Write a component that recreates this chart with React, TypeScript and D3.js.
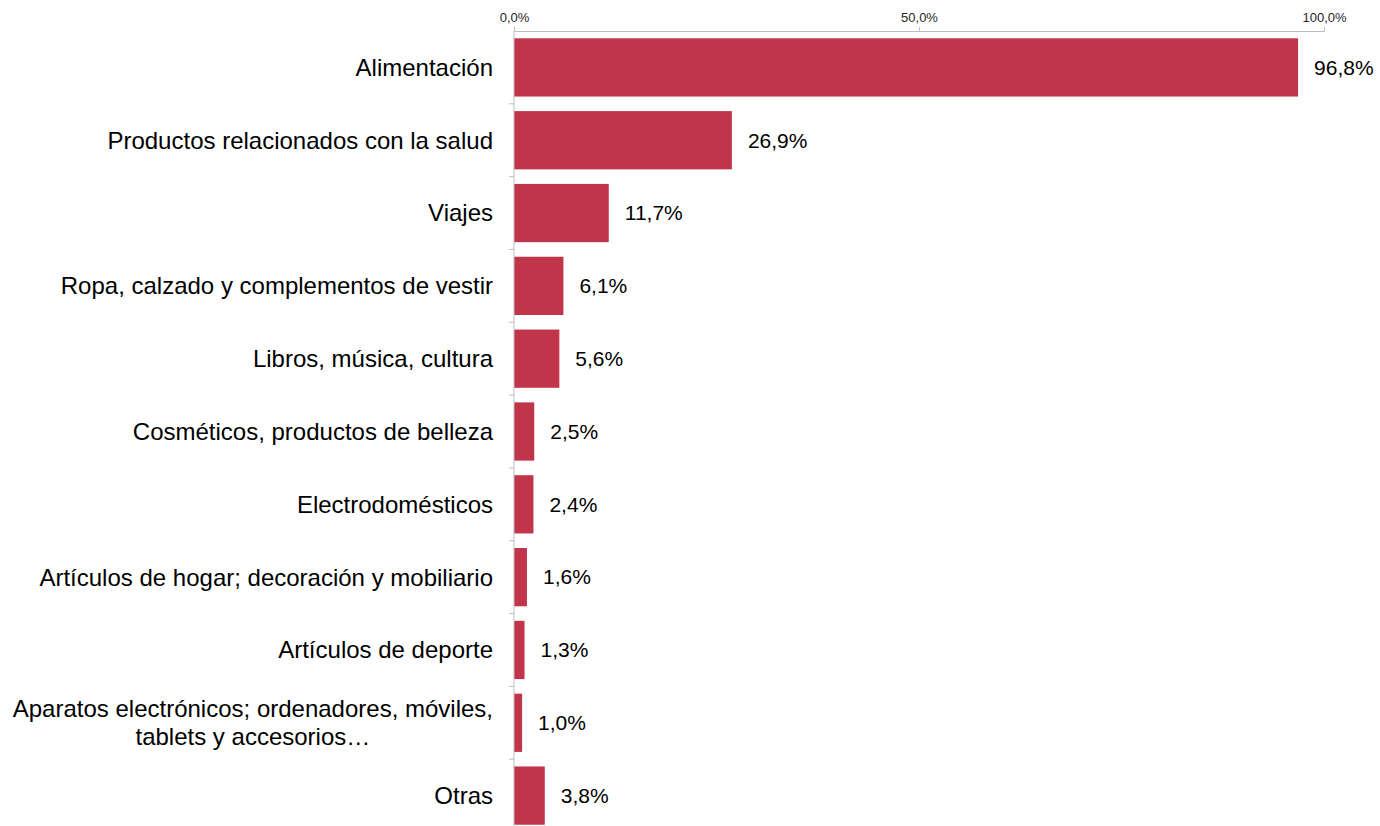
import React, { useRef, useEffect } from 'react';
import * as d3 from 'd3';

const categories = [
  'Alimentación',
  'Productos relacionados con la salud',
  'Viajes',
  'Ropa, calzado y complementos de vestir',
  'Libros, música, cultura',
  'Cosméticos, productos de belleza',
  'Electrodomésticos',
  'Artículos de hogar; decoración y mobiliario',
  'Artículos de deporte',
  'Aparatos electrónicos; ordenadores, móviles,\ntablets y accesorios…',
  'Otras',
];
const values = [96.8, 26.9, 11.7, 6.1, 5.6, 2.5, 2.4, 1.6, 1.3, 1.0, 3.8];
const xTicks = [0, 50, 100];

const fmt = (v: number) => v.toFixed(1).replace('.', ',') + '%';

function App(): React.ReactElement {
  const ref = useRef<HTMLDivElement | null>(null);

  useEffect(() => {
    if (!ref.current) return;
    const container = ref.current;
    const width = 1380;
    const height = 826;
    const margin = { top: 31, right: 56, bottom: -6, left: 514 };
    const font = '"Liberation Sans", Arial, sans-serif';

    d3.select(container).selectAll('*').remove();

    const svg = d3
      .select(container)
      .append('svg')
      .attr('width', width)
      .attr('height', height)
      .style('position', 'absolute')
      .style('left', '0px')
      .style('top', '0px')
      .style('font-family', font);

    const x = d3
      .scaleLinear()
      .domain([0, 100])
      .range([margin.left, 1324]);

    const y = d3
      .scaleBand<string>()
      .domain(categories)
      .range([margin.top, height - margin.bottom])
      .paddingInner(0.2)
      .paddingOuter(0.1);

    // top axis
    const xAxis = svg
      .append('g')
      .attr('transform', `translate(0,${margin.top})`)
      .call(
        d3
          .axisTop(x)
          .tickValues(xTicks)
          .tickSize(4)
          .tickPadding(5)
          .tickFormat(d => fmt(d as number))
      );
    xAxis.select('.domain').attr('stroke', '#BFBFBF');
    xAxis.selectAll('.tick line').attr('stroke', '#BFBFBF');
    xAxis
      .selectAll('.tick text')
      .attr('fill', '#262626')
      .style('font-size', '13px')
      .style('font-family', font);

    // bars
    svg
      .append('g')
      .selectAll('rect')
      .data(values)
      .join('rect')
      .attr('x', x(0))
      .attr('y', (_, i) => y(categories[i])!)
      .attr('width', d => x(d) - x(0))
      .attr('height', y.bandwidth())
      .attr('fill', '#C1354B');

    // value labels
    svg
      .append('g')
      .selectAll('text')
      .data(values)
      .join('text')
      .attr('x', d => x(d) + 16)
      .attr('y', (_, i) => y(categories[i])! + y.bandwidth() / 2)
      .attr('dy', '0.35em')
      .attr('fill', '#000')
      .style('font-size', '21px')
      .text(d => fmt(d));

    // left axis line with ticks between bands
    const step = y.step();
    const leftAxis = svg.append('g');
    leftAxis
      .append('line')
      .attr('x1', x(0))
      .attr('x2', x(0))
      .attr('y1', margin.top)
      .attr('y2', height)
      .attr('stroke', '#BFBFBF');
    leftAxis
      .selectAll('line.tick')
      .data(d3.range(1, categories.length + 1))
      .join('line')
      .attr('class', 'tick')
      .attr('x1', x(0) - 5)
      .attr('x2', x(0))
      .attr('y1', i => margin.top + i * step)
      .attr('y2', i => margin.top + i * step)
      .attr('stroke', '#BFBFBF');

    // category labels
    const labels = svg.append('g');
    categories.forEach(c => {
      const lines = c.split('\n');
      const cy = y(c)! + y.bandwidth() / 2;
      const lh = 28;
      const t = labels
        .append('text')
        .attr('fill', '#000')
        .style('font-size', '24px');
      if (lines.length === 1) {
        t.attr('x', x(0) - 21)
          .attr('y', cy)
          .attr('dy', '0.35em')
          .attr('text-anchor', 'end')
          .text(c);
      } else {
        t.attr('text-anchor', 'middle');
        const spans = lines.map((l, j) =>
          t
            .append('tspan')
            .attr('y', cy + (j - (lines.length - 1) / 2) * lh)
            .attr('dy', '0.35em')
            .text(l)
        );
        const w = (spans[0].node() as SVGTSpanElement).getComputedTextLength();
        const cx = x(0) - 21 - w / 2;
        spans.forEach(s => s.attr('x', cx));
      }
    });
  }, []);

  return <div ref={ref} style={{ width: 1380, height: 826 }} />;
}

export default App;
